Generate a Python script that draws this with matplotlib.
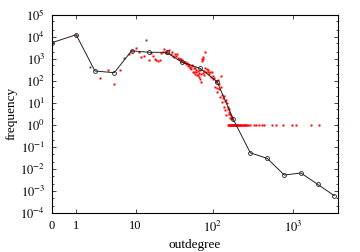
import matplotlib
matplotlib.use("Agg")
import matplotlib.pyplot as plt
import numpy as np
from matplotlib.ticker import LogLocator, NullFormatter, NullLocator

plt.rcParams['font.family'] = ['Liberation Serif', 'DejaVu Serif']
plt.rcParams['mathtext.fontset'] = 'stix'
plt.rcParams['font.size'] = 9

# raw outdegree counts (red points)
raw_k = [0, 1, 3, 4, 5, 6, 8, 9, 10, 11, 12, 13, 15, 16, 17, 18, 19, 20, 21, 22,
         23, 24, 25, 26, 27, 28, 29, 30, 31, 32, 33, 34, 35, 36, 37, 38, 39, 40,
         41, 42, 43, 44, 45, 46, 47, 48, 49, 50, 51, 52, 53, 54, 55, 56, 57, 58,
         59, 60, 61, 62, 63, 64, 65, 66, 67, 68, 69, 70, 71, 72, 73, 74, 75, 76,
         77, 78, 79, 80, 82, 84, 86, 87, 89, 92, 94, 97, 99, 101, 103, 106, 108,
         110, 112, 114, 117, 119, 121, 123, 125, 127, 129, 131, 134, 136, 138,
         140, 142, 145, 148, 150, 153, 155, 157, 159, 161, 163, 166, 168, 171,
         174, 176]
raw_f = [5370, 12300, 129, 299, 72, 310, 1640, 2240, 2990, 2000, 1240, 1330, 870,
         1900, 1400, 1000, 870, 770, 870, 1900, 2000, 2860, 1900, 2320, 1800, 2500,
         1590, 2100, 1400, 1200, 1700, 1300, 1590, 1100, 1000, 945, 1000, 800, 870,
         750, 680, 720, 713, 600, 640, 560, 470, 530, 393, 430, 360, 500, 470, 256,
         380, 260, 370, 210, 300, 250, 180, 270, 190, 153, 230, 300, 118, 91, 200,
         945, 800, 1200, 1000, 220, 280, 180, 2090, 393, 260, 330, 240, 315, 200,
         240, 150, 255, 120, 165, 130, 54, 90, 100, 32, 45, 110, 41, 70, 19, 50,
         165, 11, 23, 16, 6.6, 20, 12, 4.7, 14, 2.8, 10, 6.8, 5, 5.2, 3, 4, 2, 3.1,
         2, 2.4, 1.8, 2]

# outdegrees seen exactly once
single_k = [155, 158, 160, 162, 165, 167, 170, 173, 175, 178, 180, 183, 186, 189,
            192, 195, 198, 201, 205, 209, 213, 217, 221, 226, 231, 236, 242, 248,
            255, 262, 270, 278, 288, 327, 346, 377, 411, 436, 549, 616, 753, 974,
            1093, 1680, 2113, 3646]

# darker raw points
dark_k = [2, 7, 14]
dark_f = [437, 1120, 7070]

# log-binned average
bin_k = [0, 1, 2.43, 4.97, 8.8, 15.2, 25.7, 40.2, 68.7, 113, 180, 294, 479, 779,
         1259, 2039, 3279]
bin_f = [5370, 12300, 278, 233, 2300, 1960, 1960, 713, 369, 91, 1.79, 0.054,
         0.030, 0.0053, 0.0065, 0.0020, 0.00061]

fig = plt.figure(figsize=(3.6, 2.52), dpi=100)
ax = fig.add_axes([0.1444, 0.1548, 0.7945, 0.7869])

ax.plot(np.array(raw_k) + 1, raw_f, 's', color='red', ms=1.5, mec='none')
ax.plot(np.array(single_k) + 1, np.ones(len(single_k)), 's', color='red',
        ms=1.5, mec='none')
ax.plot(np.array(dark_k) + 1, dark_f, 's', color='#7a4040', ms=1.5, mec='none')
ax.plot(np.array(bin_k) + 1, bin_f, '-o', color='#222222', lw=0.7, ms=2.8,
        mfc='none', mew=0.6)

ax.set_xscale('log')
ax.set_yscale('log')
ax.set_xlim(1, 3650)
ax.set_ylim(1e-4, 1e5)

ax.set_xticks([1, 2, 11, 101, 1001])
ax.set_xticklabels(['0', '1', '10', r'$10^{2}$', r'$10^{3}$'])
ax.xaxis.set_minor_locator(NullLocator())
ax.set_yticks([10.0**e for e in range(-4, 6)])
ax.set_yticklabels([r'$10^{%d}$' % e for e in range(-4, 6)])
ax.yaxis.set_minor_locator(LogLocator(base=10, subs=(2, 5), numticks=30))
ax.yaxis.set_minor_formatter(NullFormatter())

ax.tick_params(which='both', direction='in', top=True, right=True, width=0.5)
ax.tick_params(which='major', length=3, pad=5)
ax.tick_params(which='minor', length=1.5)
for s in ax.spines.values():
    s.set_linewidth(0.8)

ax.set_xlabel('outdegree', labelpad=3, fontsize=9.5)
ax.set_ylabel('frequency', labelpad=2, fontsize=9.5)

fig.savefig('out.png', dpi=100)
